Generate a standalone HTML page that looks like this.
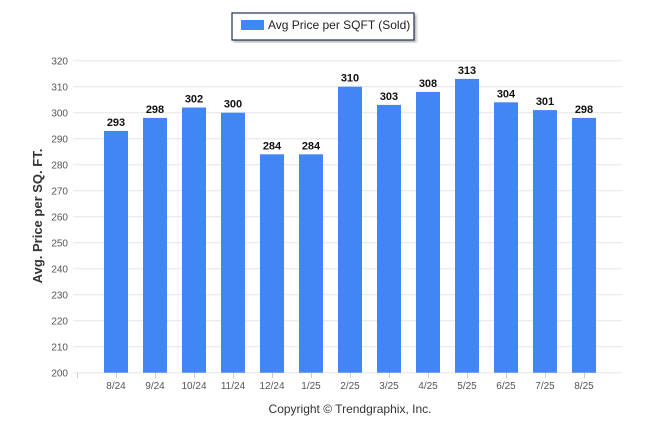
<!DOCTYPE html>
<html><head><meta charset="utf-8"><style>
body{margin:0;background:#fff;font-family:"Liberation Sans",Arial,sans-serif}
svg{display:block}
</style></head><body>
<svg id="chart" width="646" height="434" xmlns="http://www.w3.org/2000/svg">
<defs><filter id="sh"><feDropShadow dx="2" dy="2" stdDeviation="1" flood-color="#888" flood-opacity="0.6"/></filter></defs>
<g>
<rect x="232" y="13" width="182" height="27" fill="#fff" stroke="#1f2d5a" stroke-width="1.2" filter="url(#sh)"/>
<rect x="241" y="20" width="23" height="10" fill="#4285f4"/>
<text x="268" y="29" font-size="12" fill="#222">Avg Price per SQFT (Sold)</text>
</g>
<g id="grid"></g><g id="bars"></g><g id="xaxis"></g>
<text transform="translate(42,216) rotate(-90)" text-anchor="middle" font-size="13" font-weight="bold" fill="#333">Avg. Price per SQ. FT.</text>
<text x="350" y="413" text-anchor="middle" font-size="12" fill="#333">Copyright © Trendgraphix, Inc.</text>
</svg>
<script>
const categories=["8/24","9/24","10/24","11/24","12/24","1/25","2/25","3/25","4/25","5/25","6/25","7/25","8/25"];
const values=[293,298,302,300,284,284,310,303,308,313,304,301,298];
const yTicks=[200,210,220,230,240,250,260,270,280,290,300,310,320];
const NS="http://www.w3.org/2000/svg";
const y=v=>372.7-(v-200)*2.6;
const x=i=>116+39*i;
function mk(tag,attrs,parent,txt){const e=document.createElementNS(NS,tag);for(const k in attrs)e.setAttribute(k,attrs[k]);if(txt!==undefined)e.textContent=txt;parent.appendChild(e);return e;}
const g=document.getElementById('grid'),b=document.getElementById('bars'),xa=document.getElementById('xaxis');
yTicks.forEach(t=>{
 const l=mk('line',{x1:73,x2:622,y1:y(t),y2:y(t),stroke:'#e6e6e6','stroke-width':1},g);
 
 
 const tx=mk('text',{x:68,y:y(t)+4,'text-anchor':'end','font-size':10,fill:'#555'},g,t);
 
 
});
mk('line',{x1:77.5,x2:77.5,y1:373,y2:378,stroke:'#ccc'},xa);
categories.forEach((c,i)=>{
 const r=mk('rect',{x:x(i)-12,y:y(values[i]),width:24,height:y(200)-y(values[i]),fill:'#4285f4'},b);
 
 
 const v=mk('text',{x:x(i),y:y(values[i])-5,'text-anchor':'middle','font-size':11,'font-weight':'bold',fill:'#111'},b,values[i]);
 
 
 mk('line',{x1:x(i)+0.5,x2:x(i)+0.5,y1:373,y2:378,stroke:'#ccc'},xa);
 const t=mk('text',{x:x(i),y:389,'text-anchor':'middle','font-size':10,fill:'#555'},xa,c);
 
 
});
</script>
</body></html>
